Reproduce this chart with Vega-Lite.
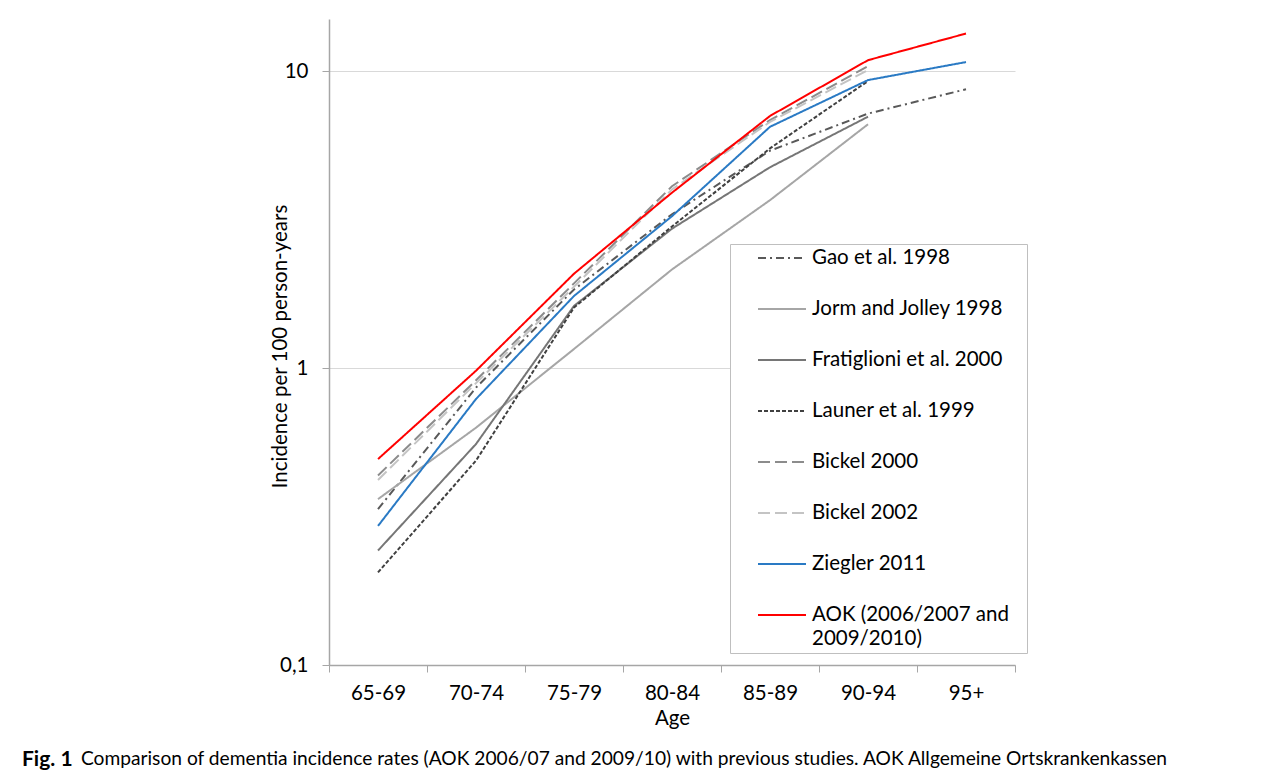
{
  "$schema": "https://vega.github.io/schema/vega-lite/v6.json",
  "width": 686,
  "height": 646,
  "autosize": {"type": "none"},
  "padding": {"left": 329, "top": 19, "right": 267, "bottom": 109},
  "background": "white",
  "config": {"view": {"stroke": null}, "font": "Lato", "style": {"guide-label": {"lineHeight": 24}}},
  "title": {
    "text": "Fig. 1",
    "subtitle": "\u200b\u00a0\u00a0\u00a0\u00a0\u00a0\u00a0\u00a0\u00a0\u00a0\u00a0\u00a0\u00a0Comparison of dementia incidence rates (AOK 2006/07 and 2009/10) with previous studies. AOK Allgemeine Ortskrankenkassen",
    "orient": "bottom",
    "anchor": "start",
    "frame": "group",
    "dx": -307,
    "offset": 20,
    "font": "Lato",
    "fontSize": 21,
    "fontWeight": "bold",
    "color": "black",
    "subtitleFont": "Lato",
    "subtitleFontSize": 19.2,
    "subtitleColor": "black",
    "subtitlePadding": -20
  },
  "data": {
    "values": [
      {"study": "Gao et al. 1998", "age": "65-69", "rate": 0.335},
      {"study": "Gao et al. 1998", "age": "70-74", "rate": 0.86},
      {"study": "Gao et al. 1998", "age": "75-79", "rate": 1.84},
      {"study": "Gao et al. 1998", "age": "80-84", "rate": 3.3},
      {"study": "Gao et al. 1998", "age": "85-89", "rate": 5.4},
      {"study": "Gao et al. 1998", "age": "90-94", "rate": 7.2},
      {"study": "Gao et al. 1998", "age": "95+", "rate": 8.7},
      {"study": "Jorm and Jolley 1998", "age": "65-69", "rate": 0.362},
      {"study": "Jorm and Jolley 1998", "age": "70-74", "rate": 0.63},
      {"study": "Jorm and Jolley 1998", "age": "75-79", "rate": 1.16},
      {"study": "Jorm and Jolley 1998", "age": "80-84", "rate": 2.15},
      {"study": "Jorm and Jolley 1998", "age": "85-89", "rate": 3.68},
      {"study": "Jorm and Jolley 1998", "age": "90-94", "rate": 6.63},
      {"study": "Fratiglioni et al. 2000", "age": "65-69", "rate": 0.243},
      {"study": "Fratiglioni et al. 2000", "age": "70-74", "rate": 0.555},
      {"study": "Fratiglioni et al. 2000", "age": "75-79", "rate": 1.62},
      {"study": "Fratiglioni et al. 2000", "age": "80-84", "rate": 2.95},
      {"study": "Fratiglioni et al. 2000", "age": "85-89", "rate": 4.75},
      {"study": "Fratiglioni et al. 2000", "age": "90-94", "rate": 7.03},
      {"study": "Launer et al. 1999", "age": "65-69", "rate": 0.205},
      {"study": "Launer et al. 1999", "age": "70-74", "rate": 0.488},
      {"study": "Launer et al. 1999", "age": "75-79", "rate": 1.6},
      {"study": "Launer et al. 1999", "age": "80-84", "rate": 3.0},
      {"study": "Launer et al. 1999", "age": "85-89", "rate": 5.5},
      {"study": "Launer et al. 1999", "age": "90-94", "rate": 9.27},
      {"study": "Bickel 2000", "age": "65-69", "rate": 0.435},
      {"study": "Bickel 2000", "age": "70-74", "rate": 0.91},
      {"study": "Bickel 2000", "age": "75-79", "rate": 1.93},
      {"study": "Bickel 2000", "age": "80-84", "rate": 4.1},
      {"study": "Bickel 2000", "age": "85-89", "rate": 6.85},
      {"study": "Bickel 2000", "age": "90-94", "rate": 10.4},
      {"study": "Bickel 2002", "age": "65-69", "rate": 0.42},
      {"study": "Bickel 2002", "age": "70-74", "rate": 0.89},
      {"study": "Bickel 2002", "age": "75-79", "rate": 1.88},
      {"study": "Bickel 2002", "age": "80-84", "rate": 4.0},
      {"study": "Bickel 2002", "age": "85-89", "rate": 6.75},
      {"study": "Bickel 2002", "age": "90-94", "rate": 10.1},
      {"study": "Ziegler 2011", "age": "65-69", "rate": 0.294},
      {"study": "Ziegler 2011", "age": "70-74", "rate": 0.787},
      {"study": "Ziegler 2011", "age": "75-79", "rate": 1.75},
      {"study": "Ziegler 2011", "age": "80-84", "rate": 3.25},
      {"study": "Ziegler 2011", "age": "85-89", "rate": 6.5},
      {"study": "Ziegler 2011", "age": "90-94", "rate": 9.34},
      {"study": "Ziegler 2011", "age": "95+", "rate": 10.74},
      {"study": "AOK (2006/2007 and 2009/2010)", "age": "65-69", "rate": 0.494},
      {"study": "AOK (2006/2007 and 2009/2010)", "age": "70-74", "rate": 0.98},
      {"study": "AOK (2006/2007 and 2009/2010)", "age": "75-79", "rate": 2.08},
      {"study": "AOK (2006/2007 and 2009/2010)", "age": "80-84", "rate": 3.9},
      {"study": "AOK (2006/2007 and 2009/2010)", "age": "85-89", "rate": 7.07},
      {"study": "AOK (2006/2007 and 2009/2010)", "age": "90-94", "rate": 10.9},
      {"study": "AOK (2006/2007 and 2009/2010)", "age": "95+", "rate": 13.4}
    ]
  },
  "mark": {"type": "line", "strokeWidth": 2},
  "encoding": {
    "x": {
      "field": "age",
      "type": "ordinal",
      "sort": ["65-69", "70-74", "75-79", "80-84", "85-89", "90-94", "95+"],
      "scale": {"type": "band", "paddingInner": 0, "paddingOuter": 0},
      "axis": {
        "title": "Age",
        "titleFont": "Lato",
        "titleFontSize": 20.5,
        "titleFontWeight": "normal",
        "titleColor": "black",
        "titlePadding": 5,
        "labelAngle": 0,
        "labelFont": "Lato",
        "labelFontSize": 20.5,
        "labelColor": "black",
        "labelPadding": 11,
        "tickBand": "extent",
        "tickSize": 7,
        "tickColor": "#a6a6a6",
        "domainColor": "#a6a6a6",
        "domainWidth": 1.5,
        "grid": false
      }
    },
    "y": {
      "field": "rate",
      "type": "quantitative",
      "scale": {"type": "log", "domain": [0.1, 15]},
      "axis": {
        "title": "Incidence per 100 person-years",
        "titleFont": "Lato",
        "titleFontSize": 20.5,
        "titleFontWeight": "normal",
        "titleColor": "black",
        "titleX": -39,
        "titleY": 327,
        "titleBaseline": "bottom",
        "values": [0.1, 1, 10],
        "labelExpr": "datum.value < 0.5 ? '0,1' : datum.label",
        "labelFont": "Lato",
        "labelFontSize": 20.5,
        "labelColor": "black",
        "labelPadding": 14,
        "ticks": true,
        "tickSize": 7,
        "tickColor": "#a6a6a6",
        "domain": true,
        "domainColor": "#a6a6a6",
        "domainWidth": 1.5,
        "grid": true,
        "gridColor": "#d9d9d9",
        "gridWidth": 1
      }
    },
    "color": {
      "field": "study",
      "type": "nominal",
      "scale": {
        "domain": ["Gao et al. 1998", "Jorm and Jolley 1998", "Fratiglioni et al. 2000", "Launer et al. 1999", "Bickel 2000", "Bickel 2002", "Ziegler 2011", "AOK (2006/2007 and 2009/2010)"],
        "range": ["#595959", "#a6a6a6", "#767676", "#404040", "#8c8c8c", "#c4c4c4", "#2a7ac4", "#ff0000"]
      },
      "legend": {
        "orient": "none",
        "legendX": 401,
        "legendY": 225,
        "title": null,
        "strokeColor": "#bfbfbf",
        "fillColor": "white",
        "padding": 3,
        "symbolType": "M-2.4,0H2.4",
        "symbolSize": 400,
        "symbolStrokeWidth": 2,
        "symbolOffset": 38,
        "labelOffset": 19,
        "labelFont": "Lato",
        "labelFontSize": 20.5,
        "labelColor": "black",
        "labelLimit": 400,
        "rowPadding": 29,
        "labelExpr": "datum.label == 'AOK (2006/2007 and 2009/2010)' ? ['AOK (2006/2007 and', '2009/2010)'] : datum.label == 'Fratiglioni et al. 2000' ? 'Fratiglioni et al. 2000\u00a0\u00a0\u00a0\u00a0\u200b' : datum.label"
      }
    },
    "strokeDash": {
      "field": "study",
      "type": "nominal",
      "scale": {
        "domain": ["Gao et al. 1998", "Jorm and Jolley 1998", "Fratiglioni et al. 2000", "Launer et al. 1999", "Bickel 2000", "Bickel 2002", "Ziegler 2011", "AOK (2006/2007 and 2009/2010)"],
        "range": [[8, 4, 2, 4], [1, 0], [1, 0], [4, 2], [12, 5], [12, 5], [1, 0], [1, 0]]
      },
      "legend": {
        "orient": "none",
        "legendX": 401,
        "legendY": 225,
        "title": null,
        "strokeColor": "#bfbfbf",
        "fillColor": "white",
        "padding": 3,
        "symbolType": "M-2.4,0H2.4",
        "symbolSize": 400,
        "symbolStrokeWidth": 2,
        "symbolOffset": 38,
        "labelOffset": 19,
        "labelFont": "Lato",
        "labelFontSize": 20.5,
        "labelColor": "black",
        "labelLimit": 400,
        "rowPadding": 29,
        "labelExpr": "datum.label == 'AOK (2006/2007 and 2009/2010)' ? ['AOK (2006/2007 and', '2009/2010)'] : datum.label == 'Fratiglioni et al. 2000' ? 'Fratiglioni et al. 2000\u00a0\u00a0\u00a0\u00a0\u200b' : datum.label"
      }
    }
  }
}
